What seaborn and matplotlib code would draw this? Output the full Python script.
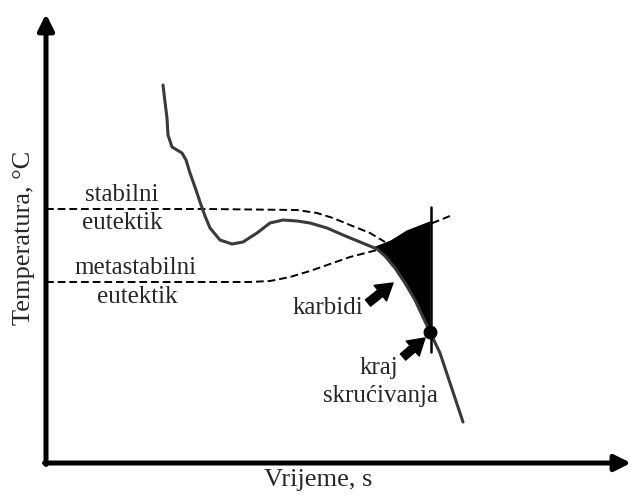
import numpy as np
import pandas as pd
import seaborn as sns
from matplotlib import pyplot as plt

sns.set_style('white')
plt.rcParams['font.family'] = ['Liberation Serif', 'DejaVu Serif']

# krivulja hladjenja (vrijeme, temperatura) - proizvoljne jedinice
t_krivulja = [117, 119, 121, 122, 126, 131, 136, 140, 144, 150, 154, 159, 164, 174,
              186, 197, 211, 224, 237, 251, 264, 281, 297, 314, 331, 339, 349, 359,
              369, 376, 384, 394, 404, 417]
T_krivulja = [378, 361, 345, 328, 316, 313, 310, 303, 290, 273, 261, 247, 235, 223,
              219, 221, 230, 240, 243, 242, 240, 235, 228, 221, 214, 207, 195, 180,
              163, 148, 131, 110, 80, 41]

# stabilni eutektik
t_stab = [0, 161, 251, 271, 287, 304, 324, 339]
T_stab = [254, 254, 253, 250, 245, 238, 230, 221]

# metastabilni eutektik
t_meta = [0, 204, 224, 244, 264, 284, 304, 331, 354, 384, 404]
T_meta = [181, 181, 182, 186, 192, 199, 206, 213, 224, 239, 247]

# karbidi (gornji rub)
t_karb_gore = [327, 345, 361, 384]
T_karb_gore = [215, 222, 232, 241]

t_kraj, T_kraj = 384, 131
t_okomita = [385, 385]
T_okomita = [256, 111]

fig = plt.figure(figsize=(6.31, 4.96), dpi=100)
ax = fig.add_axes([0, 0, 1, 1])
ax.set_xlim(-46, 585)
ax.set_ylim(-33, 463)
ax.axis('off')

# karbidi - crno podrucje, lijevi rub ide po krivulji
kk = [(t, T) for t, T in zip(t_krivulja, T_krivulja) if 331 <= t < 384]
poly_t = t_karb_gore + [t_kraj] + [p[0] for p in kk[::-1]]
poly_T = T_karb_gore + [T_kraj] + [p[1] for p in kk[::-1]]
ax.fill(poly_t, poly_T, color='black', lw=0.8, ec='black', zorder=2)

crt = (0, (4, 2))
sns.lineplot(x=t_stab, y=T_stab, ax=ax, color='black', lw=1.4,
             linestyle=crt, sort=False, estimator=None)
sns.lineplot(x=t_meta, y=T_meta, ax=ax, color='black', lw=1.4,
             linestyle=crt, sort=False, estimator=None)
sns.lineplot(x=t_krivulja, y=T_krivulja, ax=ax, color='#3a3a3a', lw=2.2,
             sort=False, estimator=None, zorder=3,
             solid_joinstyle='round', solid_capstyle='round')
ax.plot(t_okomita, T_okomita, color='black', lw=1.8, zorder=3)
ax.plot([t_kraj], [T_kraj], 'o', color='black', ms=9, zorder=4)

# osi sa strelicama
strel = dict(arrowstyle='-|>', lw=3.6, color='black', mutation_scale=24,
             shrinkA=0, shrinkB=0)
ax.annotate('', xy=(0, 449), xytext=(0, -1.5), arrowprops=strel)
ax.annotate('', xy=(585, 0), xytext=(-1.5, 0), arrowprops=strel)

# strelice
mala = dict(arrowstyle='simple,head_width=1.1,head_length=0.9,tail_width=0.45',
            color='black', mutation_scale=13, shrinkA=0, shrinkB=0)
ax.annotate('', xy=(347, 180), xytext=(322, 160), arrowprops=mala)
ax.annotate('', xy=(379, 125), xytext=(357, 106), arrowprops=mala)

fs = 18
ax.text(76, 268, 'stabilni', fontsize=fs, ha='center', va='center')
ax.text(76, 240, 'eutektik', fontsize=fs, ha='center', va='center')
ax.text(90, 195, 'metastabilni', fontsize=fs, ha='center', va='center')
ax.text(91, 166, 'eutektik', fontsize=fs, ha='center', va='center')
ax.text(282, 155, 'karbidi', fontsize=fs, ha='center', va='center')
ax.text(333, 95, 'kraj', fontsize=fs, ha='center', va='center')
ax.text(334, 67, 'skrućivanja', fontsize=fs, ha='center', va='center')
ax.text(272, -17, 'Vrijeme, s', fontsize=19, ha='center', va='center')
ax.text(-22, 225, 'Temperatura, °C', fontsize=19, ha='center', va='center',
        rotation=90)

fig.savefig('out.png', dpi=100)
